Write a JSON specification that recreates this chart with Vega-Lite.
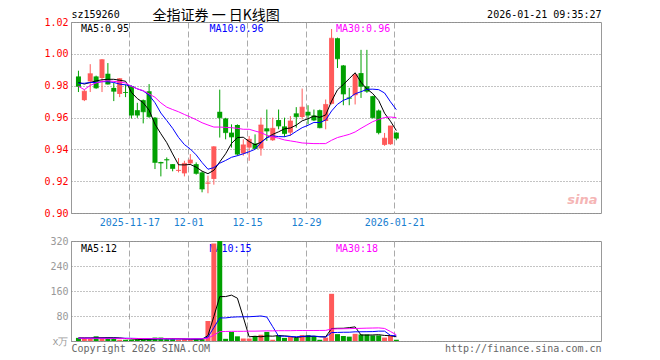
{
  "$schema": "https://vega.github.io/schema/vega-lite/v6.json",
  "autosize": {"type": "pad"},
  "padding": {"left": 43, "top": 7, "right": 60, "bottom": 8},
  "background": "white",
  "spacing": 28,
  "bounds": "flush",
  "config": {
    "view": {"stroke": "#999999", "strokeWidth": 1},
    "axis": {"labelFont": "DejaVu Sans Mono", "labelFontSize": 10, "titleFont": "DejaVu Sans Mono", "titleFontSize": 10, "titleFontWeight": "normal", "labelOverlap": false, "labelFlush": false},
    "text": {"font": "DejaVu Sans Mono", "fontSize": 10}
  },
  "datasets": {
    "k": [
      {"i":0,"d":"2025-11-04","o":0.9858,"h":0.9894,"l":0.976,"c":0.9796,"v":10,"m5":0.982,"m10":0.9815,"m30":0.9796,"vm5":10,"vm10":9,"vm30":9},
      {"i":1,"d":"2025-11-05","o":0.9709,"h":0.9775,"l":0.9703,"c":0.9765,"v":10,"m5":0.981,"m10":0.9815,"m30":0.9775,"vm5":10,"vm10":9,"vm30":9},
      {"i":2,"d":"2025-11-06","o":0.9827,"h":0.9935,"l":0.976,"c":0.9875,"v":8,"m5":0.982,"m10":0.982,"m30":0.9802,"vm5":10,"vm10":9,"vm30":8.8},
      {"i":3,"d":"2025-11-07","o":0.9858,"h":0.9863,"l":0.978,"c":0.9786,"v":15,"m5":0.983,"m10":0.982,"m30":0.9817,"vm5":10.5,"vm10":9,"vm30":8.8},
      {"i":4,"d":"2025-11-10","o":0.9848,"h":0.9967,"l":0.976,"c":0.9963,"v":10,"m5":0.9837,"m10":0.9825,"m30":0.9827,"vm5":10.6,"vm10":9,"vm30":8.7},
      {"i":5,"d":"2025-11-11","o":0.9875,"h":0.9942,"l":0.9807,"c":0.981,"v":11,"m5":0.984,"m10":0.9825,"m30":0.9831,"vm5":10.8,"vm10":9,"vm30":8.6},
      {"i":6,"d":"2025-11-12","o":0.9786,"h":0.9817,"l":0.9703,"c":0.9765,"v":10,"m5":0.984,"m10":0.982,"m30":0.9827,"vm5":10.8,"vm10":9,"vm30":8.5},
      {"i":7,"d":"2025-11-13","o":0.9748,"h":0.9848,"l":0.9728,"c":0.9844,"v":4,"m5":0.9834,"m10":0.981,"m30":0.9823,"vm5":10,"vm10":8.8,"vm30":8.4},
      {"i":8,"d":"2025-11-14","o":0.976,"h":0.9807,"l":0.9728,"c":0.9757,"v":4,"m5":0.9828,"m10":0.9805,"m30":0.9817,"vm5":7.8,"vm10":8.7,"vm30":8.2},
      {"i":9,"d":"2025-11-17","o":0.9796,"h":0.98,"l":0.9594,"c":0.9615,"v":4,"m5":0.9758,"m10":0.9798,"m30":0.9796,"vm5":6.6,"vm10":8.6,"vm30":8},
      {"i":10,"d":"2025-11-18","o":0.9646,"h":0.9692,"l":0.9598,"c":0.9615,"v":5,"m5":0.9719,"m10":0.978,"m30":0.978,"vm5":5.4,"vm10":8.1,"vm30":7.9},
      {"i":11,"d":"2025-11-19","o":0.9709,"h":0.9713,"l":0.9563,"c":0.9636,"v":5,"m5":0.9693,"m10":0.9767,"m30":0.9769,"vm5":4.4,"vm10":7.6,"vm30":7.8},
      {"i":12,"d":"2025-11-20","o":0.9765,"h":0.981,"l":0.9598,"c":0.9605,"v":6,"m5":0.9646,"m10":0.974,"m30":0.9748,"vm5":4.8,"vm10":7.4,"vm30":7.6},
      {"i":13,"d":"2025-11-21","o":0.9599,"h":0.9603,"l":0.9276,"c":0.9318,"v":11,"m5":0.9558,"m10":0.9693,"m30":0.9727,"vm5":6.2,"vm10":7,"vm30":7.5},
      {"i":14,"d":"2025-11-24","o":0.932,"h":0.9322,"l":0.923,"c":0.9314,"v":11,"m5":0.9498,"m10":0.9628,"m30":0.9692,"vm5":7.6,"vm10":7.1,"vm30":7.4},
      {"i":15,"d":"2025-11-25","o":0.9337,"h":0.9349,"l":0.9276,"c":0.9333,"v":6,"m5":0.9442,"m10":0.9581,"m30":0.9665,"vm5":7.8,"vm10":6.6,"vm30":7.3},
      {"i":16,"d":"2025-11-26","o":0.9307,"h":0.9307,"l":0.9262,"c":0.928,"v":6,"m5":0.9371,"m10":0.9532,"m30":0.965,"vm5":8,"vm10":6.2,"vm30":7.2},
      {"i":17,"d":"2025-11-27","o":0.9264,"h":0.9345,"l":0.9255,"c":0.9268,"v":5,"m5":0.9303,"m10":0.9475,"m30":0.9636,"vm5":7.8,"vm10":6.3,"vm30":7.1},
      {"i":18,"d":"2025-11-28","o":0.9249,"h":0.9328,"l":0.923,"c":0.9312,"v":6,"m5":0.9302,"m10":0.943,"m30":0.9619,"vm5":6.8,"vm10":6.5,"vm30":7},
      {"i":19,"d":"2025-12-01","o":0.9312,"h":0.937,"l":0.9303,"c":0.9333,"v":5,"m5":0.9305,"m10":0.9402,"m30":0.9603,"vm5":5.6,"vm10":6.6,"vm30":7},
      {"i":20,"d":"2025-12-02","o":0.9307,"h":0.9318,"l":0.9241,"c":0.9249,"v":6,"m5":0.9288,"m10":0.9365,"m30":0.9586,"vm5":5.6,"vm10":6.7,"vm30":7},
      {"i":21,"d":"2025-12-03","o":0.9255,"h":0.9262,"l":0.913,"c":0.9151,"v":6,"m5":0.9263,"m10":0.9317,"m30":0.9567,"vm5":5.6,"vm10":6.8,"vm30":7},
      {"i":22,"d":"2025-12-04","o":0.9185,"h":0.9235,"l":0.9124,"c":0.9189,"v":64,"m5":0.9247,"m10":0.9275,"m30":0.9553,"vm5":17.4,"vm10":12.6,"vm30":9},
      {"i":23,"d":"2025-12-05","o":0.9214,"h":0.942,"l":0.9178,"c":0.9416,"v":312,"m5":0.9268,"m10":0.9285,"m30":0.954,"vm5":78.6,"vm10":42.7,"vm30":19},
      {"i":24,"d":"2025-12-08","o":0.9636,"h":0.9775,"l":0.9474,"c":0.9599,"v":322,"m5":0.9321,"m10":0.9313,"m30":0.954,"vm5":142,"vm10":73.8,"vm30":30},
      {"i":25,"d":"2025-12-09","o":0.9594,"h":0.9598,"l":0.9463,"c":0.9505,"v":7,"m5":0.9372,"m10":0.933,"m30":0.9538,"vm5":142.2,"vm10":73.9,"vm30":30.5},
      {"i":26,"d":"2025-12-10","o":0.9505,"h":0.9557,"l":0.9411,"c":0.9478,"v":29,"m5":0.9437,"m10":0.935,"m30":0.9536,"vm5":146.8,"vm10":76.2,"vm30":31},
      {"i":27,"d":"2025-12-11","o":0.9553,"h":0.9557,"l":0.936,"c":0.937,"v":15,"m5":0.9474,"m10":0.936,"m30":0.9532,"vm5":137,"vm10":77.2,"vm30":31},
      {"i":28,"d":"2025-12-12","o":0.9374,"h":0.9463,"l":0.936,"c":0.9428,"v":8,"m5":0.9476,"m10":0.9372,"m30":0.9526,"vm5":76.2,"vm10":77.4,"vm30":31},
      {"i":29,"d":"2025-12-15","o":0.9411,"h":0.9484,"l":0.9328,"c":0.9463,"v":8,"m5":0.9449,"m10":0.9385,"m30":0.9526,"vm5":13.4,"vm10":77.7,"vm30":31.5},
      {"i":30,"d":"2025-12-16","o":0.9436,"h":0.9494,"l":0.9405,"c":0.9405,"v":16,"m5":0.9429,"m10":0.94,"m30":0.9515,"vm5":15.2,"vm10":78.7,"vm30":31.5},
      {"i":31,"d":"2025-12-17","o":0.9405,"h":0.9599,"l":0.936,"c":0.9553,"v":20,"m5":0.9444,"m10":0.9441,"m30":0.9505,"vm5":13.4,"vm10":80.1,"vm30":32},
      {"i":32,"d":"2025-12-18","o":0.9532,"h":0.965,"l":0.9453,"c":0.9515,"v":29,"m5":0.9473,"m10":0.9473,"m30":0.9488,"vm5":16.2,"vm10":76.6,"vm30":32.5},
      {"i":33,"d":"2025-12-19","o":0.9457,"h":0.9599,"l":0.9453,"c":0.9532,"v":4,"m5":0.9494,"m10":0.9485,"m30":0.9478,"vm5":15.4,"vm10":45.8,"vm30":32.5},
      {"i":34,"d":"2025-12-22","o":0.9584,"h":0.965,"l":0.9526,"c":0.9547,"v":18,"m5":0.951,"m10":0.948,"m30":0.947,"vm5":17.4,"vm10":15.4,"vm30":33},
      {"i":35,"d":"2025-12-23","o":0.9544,"h":0.9599,"l":0.9478,"c":0.9499,"v":10,"m5":0.9529,"m10":0.9479,"m30":0.9459,"vm5":16.2,"vm10":15.7,"vm30":33},
      {"i":36,"d":"2025-12-24","o":0.9505,"h":0.9609,"l":0.9484,"c":0.9578,"v":13,"m5":0.9534,"m10":0.9489,"m30":0.9453,"vm5":14.8,"vm10":14.1,"vm30":33},
      {"i":37,"d":"2025-12-25","o":0.9626,"h":0.9665,"l":0.9536,"c":0.9605,"v":10,"m5":0.9552,"m10":0.9513,"m30":0.9447,"vm5":11,"vm10":13.6,"vm30":33.5},
      {"i":38,"d":"2025-12-26","o":0.9603,"h":0.9782,"l":0.9588,"c":0.9665,"v":19,"m5":0.9579,"m10":0.9536,"m30":0.944,"vm5":14,"vm10":14.7,"vm30":33.5},
      {"i":39,"d":"2025-12-29","o":0.9636,"h":0.9677,"l":0.9557,"c":0.9615,"v":19,"m5":0.9592,"m10":0.9551,"m30":0.9438,"vm5":14.2,"vm10":15.8,"vm30":33.5},
      {"i":40,"d":"2025-12-30","o":0.9613,"h":0.965,"l":0.9578,"c":0.9584,"v":15,"m5":0.9609,"m10":0.9569,"m30":0.9436,"vm5":15.2,"vm10":15.7,"vm30":33.5},
      {"i":41,"d":"2025-12-31","o":0.9646,"h":0.965,"l":0.9532,"c":0.9536,"v":4,"m5":0.9601,"m10":0.9568,"m30":0.9436,"vm5":13.4,"vm10":14.1,"vm30":33.7},
      {"i":42,"d":"2026-01-05","o":0.9578,"h":0.9713,"l":0.9526,"c":0.9682,"v":11,"m5":0.9616,"m10":0.9584,"m30":0.9436,"vm5":13.6,"vm10":12.3,"vm30":33.9},
      {"i":43,"d":"2026-01-06","o":0.9686,"h":1.0156,"l":0.9682,"c":1.0098,"v":151,"m5":0.9703,"m10":0.9641,"m30":0.9457,"vm5":40,"vm10":27,"vm30":38.5},
      {"i":44,"d":"2026-01-07","o":1.0098,"h":1.0102,"l":0.9911,"c":0.9969,"v":22,"m5":0.9774,"m10":0.9683,"m30":0.9474,"vm5":40.6,"vm10":27.4,"vm30":38.9},
      {"i":45,"d":"2026-01-08","o":0.9927,"h":0.993,"l":0.9677,"c":0.9748,"v":16,"m5":0.9807,"m10":0.9708,"m30":0.9484,"vm5":40.8,"vm10":28,"vm30":39.2},
      {"i":46,"d":"2026-01-09","o":0.9725,"h":0.9786,"l":0.9677,"c":0.9721,"v":14,"m5":0.9844,"m10":0.9722,"m30":0.9494,"vm5":42.8,"vm10":28.1,"vm30":39.5},
      {"i":47,"d":"2026-01-12","o":0.974,"h":0.9879,"l":0.9682,"c":0.9869,"v":23,"m5":0.9881,"m10":0.9749,"m30":0.9509,"vm5":45.2,"vm10":29.4,"vm30":40.1},
      {"i":48,"d":"2026-01-13","o":0.9879,"h":1.0025,"l":0.9723,"c":0.9796,"v":21,"m5":0.9821,"m10":0.9762,"m30":0.9532,"vm5":19.2,"vm10":29.6,"vm30":40.6},
      {"i":49,"d":"2026-01-14","o":0.9796,"h":1.0025,"l":0.9755,"c":0.9765,"v":21,"m5":0.978,"m10":0.9777,"m30":0.9553,"vm5":19,"vm10":29.8,"vm30":41.1},
      {"i":50,"d":"2026-01-15","o":0.9734,"h":0.9736,"l":0.9594,"c":0.9599,"v":18,"m5":0.975,"m10":0.9778,"m30":0.9574,"vm5":19.4,"vm10":30.1,"vm30":41.5},
      {"i":51,"d":"2026-01-16","o":0.9644,"h":0.965,"l":0.9494,"c":0.9505,"v":18,"m5":0.9707,"m10":0.9775,"m30":0.9588,"vm5":20.2,"vm10":31.5,"vm30":41.9},
      {"i":52,"d":"2026-01-19","o":0.9428,"h":0.9503,"l":0.9422,"c":0.947,"v":11,"m5":0.9627,"m10":0.9754,"m30":0.96,"vm5":17.8,"vm10":31.5,"vm30":40.2},
      {"i":53,"d":"2026-01-20","o":0.9432,"h":0.9547,"l":0.9428,"c":0.9547,"v":17,"m5":0.9577,"m10":0.9699,"m30":0.9603,"vm5":17,"vm10":18.1,"vm30":30.4},
      {"i":54,"d":"2026-01-21","o":0.9505,"h":0.9507,"l":0.9457,"c":0.947,"v":4,"m5":0.9518,"m10":0.9649,"m30":0.9599,"vm5":13.6,"vm10":16.3,"vm30":19.7}
    ]
  },
  "vconcat": [
    {
      "width": 530,
      "height": 191,
      "resolve": {"axis": {"x": "independent"}},
      "layer": [
        {
          "data": {"name": "k"},
          "mark": {"type": "rule", "strokeWidth": 1},
          "encoding": {
            "x": {"field": "i", "type": "quantitative", "scale": {"domain": [-0.4167, 87.9167], "nice": false, "zero": false},
                  "axis": {"orient": "bottom", "values": [8.65, 18.65, 28.65, 38.65, 53.65], "tickCount": 30,
                           "labelExpr": "round(datum.value) == 9 ? '2025-11-17' : round(datum.value) == 19 ? '12-01' : round(datum.value) == 29 ? '12-15' : round(datum.value) == 39 ? '12-29' : '2026-01-21'",
                           "grid": true, "gridDash": [6, 3], "gridColor": "#aaaaaa", "ticks": false, "domain": false, "labelOverlap": false,
                           "labelColor": "#1a80d0", "labelPadding": 4, "title": null}},
            "y": {"field": "l", "type": "quantitative", "title": null, "scale": {"domain": [0.9, 1.02], "nice": false, "zero": false},
                  "axis": {"values": [0.9, 0.92, 0.94, 0.96, 0.98, 1.0, 1.02], "tickCount": 30, "format": ".2f", "labelColor": "#ff0000", "labelOverlap": false, "labelBound": false,
                           "grid": true, "gridDash": [1, 2], "gridColor": "#888888", "ticks": false, "domain": false, "labelPadding": 3, "title": null}},
            "y2": {"field": "h"},
            "color": {"condition": {"test": "datum.c >= datum.o", "value": "#ff5a5a"}, "value": "#00a000"}
          }
        },
        {
          "data": {"name": "k"},
          "mark": {"type": "bar", "size": 5},
          "encoding": {
            "x": {"field": "i", "type": "quantitative", "scale": {"domain": [-0.4167, 87.9167], "nice": false, "zero": false},
                  "axis": {"orient": "top", "labels": false, "ticks": false, "domain": false, "grid": false,
                           "title": "sz159260", "titleAnchor": "start", "titleAlign": "left", "titleBaseline": "alphabetic", "titlePadding": 5, "titleColor": "#000000"}},
            "y": {"field": "o", "type": "quantitative", "title": null, "scale": {"domain": [0.9, 1.02], "nice": false, "zero": false}},
            "y2": {"field": "c"},
            "color": {"condition": {"test": "datum.c >= datum.o", "value": "#ff5a5a"}, "value": "#00a000"}
          }
        },
        {
          "data": {"name": "k"},
          "mark": {"type": "tick", "orient": "horizontal", "thickness": 1, "size": 5},
          "encoding": {
            "x": {"field": "i", "type": "quantitative", "scale": {"domain": [-0.4167, 87.9167], "nice": false, "zero": false}, "axis": null},
            "y": {"field": "c", "type": "quantitative", "title": null, "scale": {"domain": [0.9, 1.02], "nice": false, "zero": false}},
            "color": {"condition": {"test": "datum.c >= datum.o", "value": "#ff5a5a"}, "value": "#00a000"}
          }
        },
        {
          "data": {"name": "k"},
          "mark": {"type": "line", "color": "#000000", "strokeWidth": 1},
          "encoding": {
            "x": {"field": "i", "type": "quantitative", "scale": {"domain": [-0.4167, 87.9167], "nice": false, "zero": false},
                  "axis": {"orient": "top", "labels": false, "ticks": false, "domain": false, "grid": false,
                           "title": "2026-01-21 09:35:27", "titleAnchor": "end", "titleAlign": "right", "titleBaseline": "alphabetic", "titlePadding": 5, "titleColor": "#000000"}},
            "y": {"field": "m5", "type": "quantitative", "title": null, "scale": {"domain": [0.9, 1.02], "nice": false, "zero": false}}
          }
        },
        {
          "data": {"name": "k"},
          "mark": {"type": "line", "color": "#0000ff", "strokeWidth": 1},
          "encoding": {
            "x": {"field": "i", "type": "quantitative", "scale": {"domain": [-0.4167, 87.9167], "nice": false, "zero": false},
                  "axis": {"orient": "top", "labels": false, "ticks": false, "domain": false, "grid": false,
                           "title": "全指证券 一 日K线图", "titleX": 81, "titleAnchor": "start", "titleAlign": "left", "titleBaseline": "alphabetic", "titlePadding": 3,
                           "titleFont": "Noto Sans CJK SC", "titleFontSize": 14, "titleColor": "#000000"}},
            "y": {"field": "m10", "type": "quantitative", "title": null, "scale": {"domain": [0.9, 1.02], "nice": false, "zero": false}}
          }
        },
        {
          "data": {"name": "k"},
          "mark": {"type": "line", "color": "#ff00ff", "strokeWidth": 1},
          "encoding": {
            "x": {"field": "i", "type": "quantitative", "scale": {"domain": [-0.4167, 87.9167], "nice": false, "zero": false}, "axis": null},
            "y": {"field": "m30", "type": "quantitative", "title": null, "scale": {"domain": [0.9, 1.02], "nice": false, "zero": false}}
          }
        },
        {
          "data": {"values": [{"t": "MA5:0.95"}]},
          "mark": {"type": "text", "align": "left", "baseline": "top", "dy": 2, "color": "#000000"},
          "encoding": {
            "x": {"datum": 0.42, "type": "quantitative", "scale": {"domain": [-0.4167, 87.9167], "nice": false, "zero": false}, "axis": null},
            "y": {"datum": 1.02, "type": "quantitative", "title": null, "scale": {"domain": [0.9, 1.02], "nice": false, "zero": false}},
            "text": {"field": "t"}
          }
        },
        {
          "data": {"values": [{"t": "MA10:0.96"}]},
          "mark": {"type": "text", "align": "left", "baseline": "top", "dy": 2, "color": "#0000ff"},
          "encoding": {
            "x": {"datum": 22.25, "type": "quantitative", "scale": {"domain": [-0.4167, 87.9167], "nice": false, "zero": false}, "axis": null},
            "y": {"datum": 1.02, "type": "quantitative", "title": null, "scale": {"domain": [0.9, 1.02], "nice": false, "zero": false}},
            "text": {"field": "t"}
          }
        },
        {
          "data": {"values": [{"t": "MA30:0.96"}]},
          "mark": {"type": "text", "align": "left", "baseline": "top", "dy": 2, "color": "#ff00ff"},
          "encoding": {
            "x": {"datum": 43.75, "type": "quantitative", "scale": {"domain": [-0.4167, 87.9167], "nice": false, "zero": false}, "axis": null},
            "y": {"datum": 1.02, "type": "quantitative", "title": null, "scale": {"domain": [0.9, 1.02], "nice": false, "zero": false}},
            "text": {"field": "t"}
          }
        },
        {
          "data": {"values": [{"t": "sina"}]},
          "mark": {"type": "text", "align": "center", "baseline": "alphabetic", "color": "#f5b5b5", "font": "DejaVu Sans", "fontSize": 13, "fontWeight": "bold", "fontStyle": "italic"},
          "encoding": {
            "x": {"datum": 85.6, "type": "quantitative", "scale": {"domain": [-0.4167, 87.9167], "nice": false, "zero": false}, "axis": null},
            "y": {"datum": 0.9057, "type": "quantitative", "title": null, "scale": {"domain": [0.9, 1.02], "nice": false, "zero": false}},
            "text": {"field": "t"}
          }
        }
      ]
    },
    {
      "width": 530,
      "height": 100,
      "resolve": {"axis": {"x": "independent"}},
      "layer": [
        {
          "data": {"values": [{"t": "MA5:12"}]},
          "mark": {"type": "text", "align": "left", "baseline": "top", "dy": 3, "color": "#000000"},
          "encoding": {
            "x": {"datum": 0.42, "type": "quantitative", "scale": {"domain": [-0.4167, 87.9167], "nice": false, "zero": false}, "axis": null},
            "y": {"datum": 320, "type": "quantitative", "title": null, "scale": {"domain": [0, 320], "nice": false}},
            "text": {"field": "t"}
          }
        },
        {
          "data": {"values": [{"t": "MA10:15"}]},
          "mark": {"type": "text", "align": "left", "baseline": "top", "dy": 3, "color": "#0000ff"},
          "encoding": {
            "x": {"datum": 22.25, "type": "quantitative", "scale": {"domain": [-0.4167, 87.9167], "nice": false, "zero": false}, "axis": null},
            "y": {"datum": 320, "type": "quantitative", "title": null, "scale": {"domain": [0, 320], "nice": false}},
            "text": {"field": "t"}
          }
        },
        {
          "data": {"values": [{"t": "MA30:18"}]},
          "mark": {"type": "text", "align": "left", "baseline": "top", "dy": 3, "color": "#ff00ff"},
          "encoding": {
            "x": {"datum": 43.75, "type": "quantitative", "scale": {"domain": [-0.4167, 87.9167], "nice": false, "zero": false}, "axis": null},
            "y": {"datum": 320, "type": "quantitative", "title": null, "scale": {"domain": [0, 320], "nice": false}},
            "text": {"field": "t"}
          }
        },
        {
          "data": {"name": "k"},
          "mark": {"type": "bar", "size": 5, "clip": true},
          "encoding": {
            "x": {"field": "i", "type": "quantitative", "scale": {"domain": [-0.4167, 87.9167], "nice": false, "zero": false},
                  "axis": {"orient": "bottom", "values": [8.65, 18.65, 28.65, 38.65, 53.65], "tickCount": 30, "labels": false,
                           "grid": true, "gridDash": [6, 3], "gridColor": "#aaaaaa", "ticks": false, "domain": false,
                           "title": "Copyright 2026 SINA.COM", "titleAnchor": "start", "titleAlign": "left", "titleBaseline": "top", "titlePadding": 2, "titleColor": "#666666"}},
            "y": {"field": "v", "type": "quantitative", "title": null, "scale": {"domain": [0, 320], "nice": false},
                  "axis": {"values": [0, 80, 160, 240, 320], "tickCount": 30, "labelExpr": "datum.value == 0 ? 'x万' : datum.label", "labelColor": "#999999", "labelOverlap": false, "labelBound": false,
                           "grid": true, "gridDash": [1, 2], "gridColor": "#888888", "ticks": false, "domain": false, "labelPadding": 3, "title": null}},
            "color": {"condition": {"test": "datum.c >= datum.o", "value": "#ff5a5a"}, "value": "#00a000"}
          }
        },
        {
          "data": {"name": "k"},
          "mark": {"type": "line", "color": "#000000", "strokeWidth": 1},
          "encoding": {
            "x": {"field": "i", "type": "quantitative", "scale": {"domain": [-0.4167, 87.9167], "nice": false, "zero": false},
                  "axis": {"orient": "bottom", "labels": false, "ticks": false, "domain": false, "grid": false,
                           "title": "http://finance.sina.com.cn", "titleAnchor": "end", "titleAlign": "right", "titleBaseline": "top", "titlePadding": 2, "titleColor": "#666666"}},
            "y": {"field": "vm5", "type": "quantitative", "title": null, "scale": {"domain": [0, 320], "nice": false}}
          }
        },
        {
          "data": {"name": "k"},
          "mark": {"type": "line", "color": "#0000ff", "strokeWidth": 1},
          "encoding": {
            "x": {"field": "i", "type": "quantitative", "scale": {"domain": [-0.4167, 87.9167], "nice": false, "zero": false}, "axis": null},
            "y": {"field": "vm10", "type": "quantitative", "title": null, "scale": {"domain": [0, 320], "nice": false}}
          }
        },
        {
          "data": {"name": "k"},
          "mark": {"type": "line", "color": "#ff00ff", "strokeWidth": 1},
          "encoding": {
            "x": {"field": "i", "type": "quantitative", "scale": {"domain": [-0.4167, 87.9167], "nice": false, "zero": false}, "axis": null},
            "y": {"field": "vm30", "type": "quantitative", "title": null, "scale": {"domain": [0, 320], "nice": false}}
          }
        }
      ]
    }
  ]
}
